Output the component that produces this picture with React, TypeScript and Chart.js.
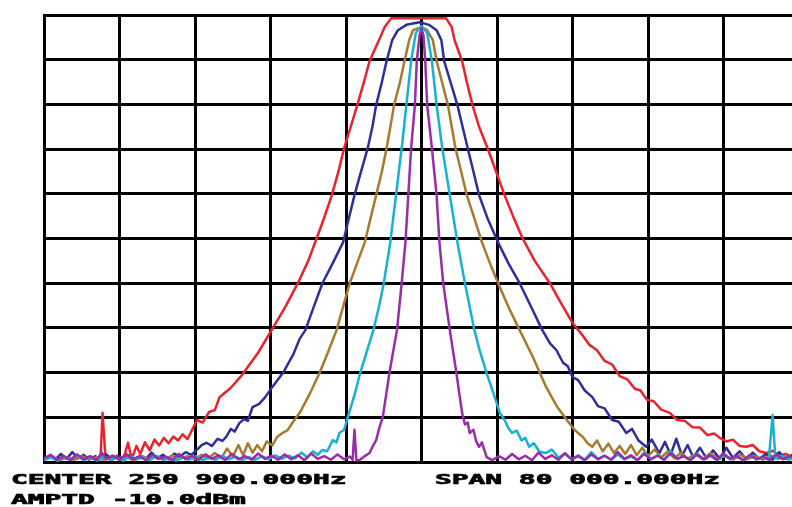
import React, { useEffect, useRef } from "react";
import { Chart, registerables } from "chart.js";

Chart.register(...registerables);

// Frequency offset from centre (kHz) and level (dBm) pairs
const redTrace: number[][] = [
  [-40,-109.3],[-39.3,-108.6],[-38.6,-109.5],[-37.9,-108.8],[-37.2,-109.4],[-36.5,-108.5],[-35.8,-109.2],[-35.1,-108.7],
  [-34.4,-109.5],[-34,-108.9],[-33.8,-99],[-33.5,-108.4],[-32.9,-109.3],[-32.2,-108.6],[-31.6,-109.5],[-31.1,-105.7],
  [-30.7,-109.3],[-30.2,-106.4],[-29.8,-108.2],[-29.3,-105.6],[-28.8,-107.4],[-28.3,-105],[-27.8,-106.3],[-27.3,-104.6],
  [-26.8,-105.8],[-26.3,-104.3],[-25.8,-105.2],[-25.3,-103.8],[-24.8,-104.9],[-24.3,-102.8],[-23.8,-100.6],[-23.2,-101.2],
  [-22.5,-98.8],[-21.9,-98.4],[-21.4,-95.5],[-20.2,-93.4],[-19,-90.5],[-17.3,-85.5],[-15.8,-80.2],[-14.4,-75.2],[-13.1,-70],
  [-12,-65],[-11.1,-59.9],[-10.3,-55.3],[-9.5,-50.3],[-8.8,-45],[-8.2,-39.8],[-7.5,-35],[-6.8,-30.1],[-6.1,-25],[-5.5,-20.3],
  [-4.5,-15.6],[-3.9,-12.7],[-3.2,-10.7],[2.6,-10.7],[3.2,-12.7],[3.5,-15.6],[4.3,-20.3],[4.8,-25],[5.4,-30.1],[6.1,-35],
  [7,-39.8],[7.9,-45],[8.8,-50.3],[9.7,-55],[10.7,-59.9],[12,-65],[13.6,-70],[14.6,-73.8],[16,-78.9],
  [17,-81.5],[17.8,-83.8],[18.6,-85],[19.4,-87.4],[20.2,-88.2],[21,-90.8],[21.8,-91.5],[22.6,-93.6],[23.2,-94],[23.9,-96.1],
  [24.6,-96.4],[25.4,-98.3],[26.3,-99],[27.1,-100.6],[27.9,-100.8],[28.7,-102.2],[29.5,-102.3],[30.3,-104],[31,-103.6],
  [31.6,-104.6],[32.3,-105.4],[33,-105],[33.7,-106.4],[34.4,-106.6],[35.1,-106.2],[35.8,-107.6],[36.5,-108],[37.2,-107.5],
  [37.9,-108.6],[38.6,-108.2],[39.2,-108.9],[40,-108.7]
];

const blueTrace: number[][] = [
  [-40,-109.5],[-39.4,-108.6],[-38.8,-109.4],[-38.2,-108.2],[-37.6,-109.3],[-37,-107.8],[-36.4,-109.2],[-35.8,-108.4],
  [-35.2,-109.5],[-34.6,-108.7],[-34,-109.4],[-33.4,-108.3],[-32.8,-109.5],[-32.2,-108.8],[-31.6,-109.4],[-31,-108.5],
  [-30.4,-109.5],[-29.8,-108.7],[-29.2,-109.3],[-28.6,-107.9],[-28,-109.2],[-27.4,-108.4],[-26.8,-109.4],[-26.2,-108.1],
  [-25.6,-108.8],[-25,-107.8],[-24.4,-108.4],[-23.8,-107.3],[-23.3,-106.2],[-22.8,-105.7],[-22.2,-106.4],[-21.6,-104.8],
  [-21.1,-105.3],[-20.7,-104.4],[-20.2,-102.6],[-19.8,-103.2],[-19.3,-101.3],[-18.8,-100.4],[-18.4,-100.8],[-17.9,-97.7],
  [-17.2,-97],[-16.6,-95.6],[-15.8,-93.2],[-14.6,-89.8],[-13.6,-86],[-12.9,-82.4],[-12.3,-80.5],[-11.4,-75.2],[-10.5,-70],
  [-9.4,-65.5],[-8.3,-60.8],[-7.7,-55.5],[-7.1,-50.3],[-6.4,-45],[-5.7,-39.8],[-5.2,-35],[-4.8,-30.1],[-4.2,-25],[-3.7,-20.3],
  [-3.1,-15.6],[-2.5,-13.4],[-1.6,-12.2],[-0.2,-11.6],[0.8,-12.2],[1.6,-13.4],[2.1,-15.6],[2.4,-20.3],[3.1,-25.2],[3.8,-30.1],
  [4.35,-35],[4.9,-39.8],[5.5,-45],[6.1,-50.3],[7,-55.5],[8.1,-60.8],[9.2,-65.5],[10.4,-70],[11.6,-75.2],[12.8,-80.5],
  [13.6,-83.4],[14.3,-85],[15,-87.8],[15.5,-88.6],[16,-91],[16.6,-91.7],[17.3,-94],[18.1,-95.5],[18.7,-97.5],[19.4,-98],
  [20.2,-100.6],[20.9,-101],[21.7,-103.5],[22.3,-102.6],[23,-105.2],[23.8,-106.6],[24.4,-105],[25.2,-108],[25.8,-105.5],
  [26.4,-108.4],[27,-104.8],[27.6,-108.6],[28.2,-106.2],[28.8,-109],[29.5,-106.8],[30.2,-109.2],[30.9,-107.4],[31.6,-109.3],
  [32.3,-106.8],[33,-109.1],[33.7,-107.6],[34.4,-109.4],[35.1,-107.9],[35.8,-109.3],[36.5,-108.2],[37.2,-109.5],[37.9,-107.8],
  [38.6,-109.3],[39.3,-108.4],[40,-109.2]
];

const brownTrace: number[][] = [
  [-40,-109.5],[-39.2,-108.8],[-38.4,-109.6],[-37.6,-109],[-36.8,-109.5],[-36,-108.7],[-35.2,-109.4],[-34.4,-108.9],
  [-33.6,-109.6],[-32.8,-108.6],[-32,-109.4],[-31.2,-109],[-30.4,-109.6],[-29.6,-108.7],[-28.8,-109.3],[-28,-108.8],
  [-27.2,-109.5],[-26.4,-108.5],[-25.6,-109.3],[-24.8,-108.7],[-24,-109.4],[-23.3,-108.4],[-22.6,-109.2],[-21.9,-108],
  [-21.2,-109.1],[-20.6,-107],[-20,-108.8],[-19.4,-106.2],[-18.9,-108.5],[-18.4,-105.8],[-17.9,-107.9],[-17.4,-106.2],
  [-16.9,-107.6],[-16.4,-105.4],[-15.8,-106.3],[-15.3,-104.4],[-14.8,-103.6],[-14.2,-102.9],[-13.6,-101],[-12.9,-99],
  [-11.9,-95],[-10.8,-90.1],[-9.9,-85.4],[-9,-80.5],[-8.3,-75.2],[-7.6,-70],[-6.8,-65.4],[-6,-60.8],[-5.4,-55.5],[-4.8,-50.3],
  [-4.2,-45],[-3.7,-39.8],[-3.3,-35],[-2.9,-30.1],[-2.3,-25.2],[-1.8,-20.3],[-1.3,-15.6],[-0.9,-13.4],[0,-12.7],[0.6,-13.4],
  [1.2,-15.6],[1.6,-20.3],[2.2,-25.2],[2.8,-30.1],[3.2,-35],[3.6,-39.8],[4.2,-45],[4.8,-50.3],[5.6,-55.5],[6.4,-60.8],
  [7.3,-65.8],[8.3,-70.9],[9.3,-75.7],[10.4,-80.5],[11.8,-86.5],[13.2,-93.2],[14.3,-97.4],[15.4,-100.6],[16.2,-102.8],
  [17.1,-104.4],[17.6,-105.8],[18.1,-106.6],[18.6,-105.2],[19.2,-107.6],[19.8,-105.9],[20.4,-108],[21,-106.4],[21.6,-108.2],
  [22.2,-106.2],[22.8,-108.5],[23.4,-106.8],[24,-108.7],[24.7,-107.2],[25.4,-109],[26.1,-107.6],[26.8,-109.2],[27.5,-107.9],
  [28.2,-109.3],[29,-108.2],[29.8,-109.4],[30.6,-108],[31.4,-109.3],[32.2,-108.6],[33,-109.5],[33.8,-108.4],[34.6,-109.3],
  [35.4,-108.7],[36.2,-109.5],[37,-108.5],[37.8,-109.3],[38.6,-108.6],[39.4,-109.5],[40,-108.9]
];

const cyanTrace: number[][] = [
  [-40,-109.6],[-39.3,-109],[-38.6,-109.7],[-37.9,-108.9],[-37.2,-109.5],[-36.5,-108.6],[-35.8,-109.6],[-35.1,-109.1],
  [-34.4,-109.7],[-33.7,-108.8],[-33,-109.5],[-32.3,-109],[-31.6,-109.7],[-30.9,-108.7],[-30.2,-109.4],[-29.5,-109],
  [-28.8,-109.6],[-28.1,-108.6],[-27.4,-109.5],[-26.7,-109.1],[-26,-109.7],[-25.3,-108.9],[-24.6,-109.5],[-23.9,-108.7],
  [-23.2,-109.6],[-22.5,-109],[-21.8,-109.5],[-21.1,-108.6],[-20.4,-109.4],[-19.7,-108.8],[-19,-109.6],[-18.3,-108.9],
  [-17.6,-109.5],[-16.9,-108.7],[-16.2,-109.4],[-15.5,-108.5],[-14.8,-109.3],[-14.1,-108.6],[-13.4,-109.2],[-12.7,-107.9],
  [-12.1,-109],[-11.5,-107.6],[-11,-108.4],[-10.5,-107.3],[-10,-107.6],[-9.4,-105.1],[-9,-105.6],[-8.7,-103.5],[-8.2,-102.8],
  [-7.8,-99.9],[-7.1,-95],[-6.5,-90.1],[-5.8,-85.3],[-5.1,-80.5],[-4.5,-75.2],[-4,-70],[-3.65,-65.4],[-3.3,-60.8],[-3,-55.5],
  [-2.7,-50.3],[-2.4,-45],[-2.1,-39.8],[-1.85,-35],[-1.6,-30.1],[-1.35,-25.2],[-1.1,-20.3],[-0.6,-14],[0,-12.4],[0.6,-14],
  [1.1,-20.3],[1.35,-25.2],[1.6,-30.1],[1.9,-35],[2.2,-39.8],[2.6,-45],[3,-50.3],[3.4,-55.5],[3.8,-60.8],[4.2,-65.4],[4.6,-70],
  [5.1,-75.2],[5.6,-80.5],[6.2,-85.3],[6.9,-90.1],[7.6,-94.5],[8.3,-99],[8.8,-100.6],[9.2,-102.4],[9.6,-103.5],[10.1,-103],
  [10.6,-105.2],[11,-104.6],[11.4,-106.6],[11.9,-105.8],[12.5,-107.7],[13.2,-108],[13.8,-107.2],[14.5,-109],[15.2,-108.2],
  [15.9,-109.4],[16.6,-108.5],[17.3,-109.5],[18,-107.8],[18.7,-109.3],[19.4,-108.6],[20.1,-109.5],[20.8,-108.3],[21.5,-109.4],
  [22.2,-108.8],[22.9,-109.6],[23.6,-107.9],[24.3,-109.3],[25,-108.5],[25.7,-109.5],[26.4,-107.6],[27.1,-109.3],[27.8,-108.7],
  [28.5,-109.5],[29.2,-108.1],[29.9,-109.4],[30.6,-108.6],[31.3,-109.6],[32,-108.4],[32.7,-109.4],[33.4,-108.8],[34.1,-109.6],
  [34.8,-108.5],[35.5,-109.4],[36.2,-108.9],[36.8,-109.5],[37.2,-99.5],[37.5,-109.2],[38.2,-108.6],[38.9,-109.5],[39.6,-108.8],
  [40,-109.3]
];

const purpleTrace: number[][] = [
  [-40,-109.2],[-39.3,-108.4],[-38.6,-109.5],[-37.9,-108.7],[-37.2,-109.6],[-36.5,-108.3],[-35.8,-109.4],[-35.1,-108.8],
  [-34.4,-109.6],[-33.9,-107.9],[-33.4,-109.3],[-32.7,-108.6],[-32,-109.5],[-31.3,-108.2],[-30.6,-109.4],[-29.9,-108.7],
  [-29.2,-109.6],[-28.5,-108.4],[-27.8,-109.3],[-27.1,-108.8],[-26.4,-109.6],[-25.7,-108.2],[-25,-109.4],[-24.3,-108.6],
  [-23.6,-109.5],[-22.9,-108.3],[-22.2,-109.3],[-21.5,-108.5],[-20.8,-109.6],[-20.1,-108.2],[-19.4,-109.4],[-18.7,-108.7],
  [-18,-109.5],[-17.3,-108.1],[-16.6,-109.3],[-15.9,-108.6],[-15.2,-109.5],[-14.5,-108.3],[-13.8,-109.4],[-13.1,-108.5],
  [-12.4,-109.6],[-11.7,-108.1],[-11,-109.3],[-10.3,-108.7],[-9.6,-109.5],[-8.9,-108.3],[-8.2,-109.4],[-7.6,-108.8],
  [-7.3,-109.5],[-7.1,-102.8],[-6.9,-109.6],[-6.6,-109.6],[-6.1,-108.8],[-5.5,-108],[-5.1,-106.2],[-4.8,-105.1],[-4.5,-102.6],
  [-4.1,-99.9],[-3.75,-95],[-3.4,-90.1],[-3,-85.3],[-2.6,-80.5],[-2.1,-70],[-1.7,-60.8],[-1.4,-50.3],[-1.1,-39.8],[-0.7,-30.1],
  [-0.5,-20.3],[-0.2,-14.5],[0,-13],[0.2,-14.5],[0.4,-20.3],[0.6,-30.1],[1.1,-39.8],[1.6,-50.3],[1.9,-60.8],[2.3,-70],
  [3,-80.5],[3.35,-85.3],[3.7,-90.1],[4,-94.6],[4.3,-99],[4.6,-101.6],[4.9,-101.2],[5.1,-103.5],[5.5,-102.8],[5.8,-105.4],
  [6.1,-106.6],[6.4,-105.6],[6.9,-108.9],[7.5,-109.6],[8.2,-108.7],[8.9,-109.5],[9.6,-108.2],[10.3,-109.4],[11,-108.6],
  [11.7,-109.6],[12.4,-107.9],[13.1,-109.3],[13.8,-108.5],[14.5,-109.5],[15.2,-108],[15.9,-109.4],[16.6,-108.7],[17.3,-109.6],
  [18,-108.3],[18.7,-109.4],[19.4,-108.6],[20.1,-109.5],[20.8,-107.8],[21.5,-109.3],[22.2,-108.5],[22.9,-109.6],[23.6,-108.2],
  [24.3,-109.4],[25,-108.6],[25.7,-109.5],[26.4,-108],[27.1,-109.3],[27.8,-108.7],[28.5,-109.6],[29.2,-108.3],[29.9,-109.4],
  [30.6,-108.5],[31.3,-109.5],[32,-108.1],[32.7,-109.3],[33.4,-108.7],[34.1,-109.6],[34.8,-108.4],[35.5,-109.4],[36.2,-108.8],
  [36.9,-109.5],[37.6,-108.3],[38.3,-109.4],[39,-108.6],[39.7,-109.5],[40,-109]
];

const seriesColors = ["#9a2cab", "#16b2d4", "#a8792e", "#2f2f9c", "#e8232b"];
const seriesTraces = [purpleTrace, cyanTrace, brownTrace, blueTrace, redTrace];
const seriesNames = ["BW 1", "BW 2", "BW 3", "BW 4", "BW 5"];

// X axis: span 80 kHz around centre, 8 kHz/div; Y axis: ref -10 dBm, 10 dB/div
const xMin = -40;
const xMax = 40;
const xStep = 8;
const yMin = -110;
const yMax = -10;
const yStep = 10;

const centerLabel = "CENTER 250 900.000Hz";
const amptdLabel = "AMPTD -10.0dBm";
const spanLabel = "SPAN 80 000.000Hz";

const CANVAS_W = 820;
const CANVAS_H = 507;

const labelPlugin = {
  id: "analyzerLabels",
  afterDraw(chart: any) {
    const ctx = chart.ctx as CanvasRenderingContext2D;
    const items: [string, number, number][] = [
      [centerLabel, 11, 484],
      [amptdLabel, 11, 504],
      [spanLabel, 435, 484],
    ];
    ctx.save();
    ctx.fillStyle = "#000";
    ctx.strokeStyle = "#000";
    ctx.lineWidth = 0.7;
    ctx.font = 'bold 14px "DejaVu Sans Mono"';
    ctx.textBaseline = "alphabetic";
    ctx.textAlign = "left";
    for (const [t, x, y] of items) {
      ctx.save();
      ctx.translate(x, y);
      ctx.scale(1.99, 1);
      ctx.fillText(t, 0, 0);
      ctx.strokeText(t, 0, 0);
      ctx.restore();
    }
    ctx.restore();
  },
};

export default function App() {
  const canvasRef = useRef<HTMLCanvasElement | null>(null);

  useEffect(() => {
    if (!canvasRef.current) return;
    const chart = new Chart(canvasRef.current, {
      type: "line",
      data: {
        datasets: seriesTraces.map((trace, i) => ({
          label: seriesNames[i],
          data: trace.map(([x, y]) => ({ x, y })),
          borderColor: seriesColors[i],
          backgroundColor: seriesColors[i],
          borderWidth: 2.5,
          borderJoinStyle: "round",
          pointRadius: 0,
          tension: 0,
          fill: false,
        })),
      },
      options: {
        responsive: false,
        animation: false,
        devicePixelRatio: 1,
        layout: { padding: { left: 44, top: 15, right: CANVAS_W - 799, bottom: CANVAS_H - 462 } },
        plugins: { legend: { display: false }, tooltip: { enabled: false } },
        scales: {
          x: {
            type: "linear",
            min: xMin,
            max: xMax,
            ticks: { display: false, stepSize: xStep },
            grid: { color: "#000", lineWidth: 3, drawTicks: false },
            border: { display: true, color: "#000", width: 3 },
          },
          y: {
            type: "linear",
            min: yMin,
            max: yMax,
            ticks: { display: false, stepSize: yStep },
            grid: { color: "#000", lineWidth: 3, drawTicks: false },
            border: { display: true, color: "#000", width: 3 },
          },
        },
      },
      plugins: [labelPlugin],
    } as any);
    return () => chart.destroy();
  }, []);

  return (
    <div
      style={{
        position: "absolute",
        left: 0,
        top: 0,
        width: 792,
        height: 507,
        overflow: "hidden",
        background: "#fff",
      }}
    >
      <canvas
        ref={canvasRef}
        width={CANVAS_W}
        height={CANVAS_H}
        style={{ display: "block", width: CANVAS_W, height: CANVAS_H }}
      />
    </div>
  );
}
